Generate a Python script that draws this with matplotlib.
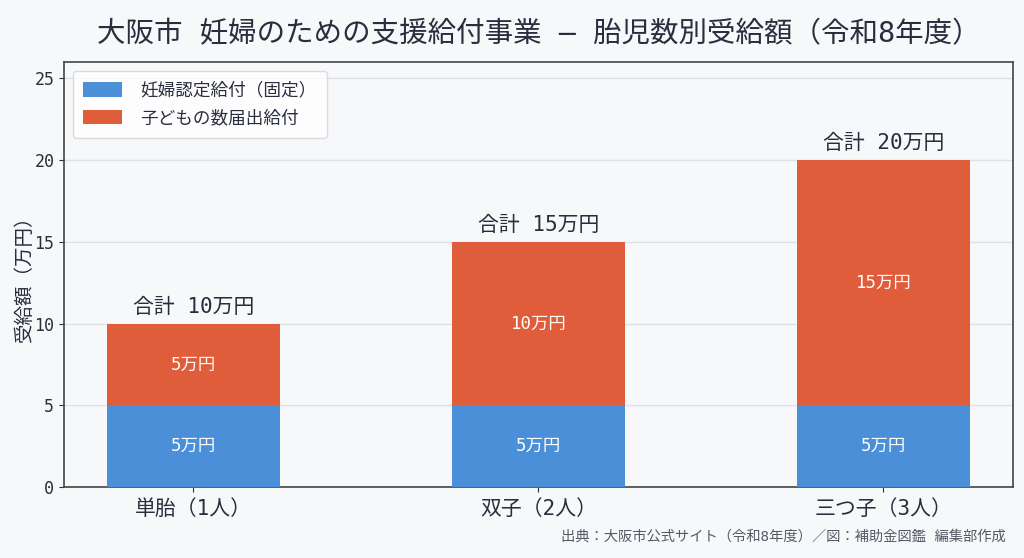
import matplotlib
matplotlib.use("Agg")
import matplotlib.pyplot as plt

plt.rcParams['font.family'] = ['DejaVu Sans Mono', 'Noto Sans CJK JP']

categories = ['単胎（1人）', '双子（2人）', '三つ子（3人）']
fixed = [5, 5, 5]
child = [5, 10, 15]
series_names = ['妊婦認定給付（固定）', '子どもの数届出給付']
yticks = [0, 5, 10, 15, 20, 25]

BG = '#f7f8fa'
BLUE = '#4a8fd8'
RED = '#e05d3c'
TXT = '#2a2d3e'

fig = plt.figure(figsize=(10.24, 5.58), dpi=100, facecolor=BG)
ax = fig.add_axes([0.0625, 0.127, 0.9265, 0.762])
ax.set_facecolor(BG)

x = list(range(len(categories)))
ax.bar(x, fixed, width=0.5, color=BLUE, label=series_names[0], zorder=3)
ax.bar(x, child, width=0.5, bottom=fixed, color=RED, label=series_names[1], zorder=3)

for i in x:
    ax.text(i, fixed[i] / 2, f'{fixed[i]}万円', ha='center', va='center',
            color='white', fontsize=12.5, zorder=4)
    ax.text(i, fixed[i] + child[i] / 2, f'{child[i]}万円', ha='center', va='center',
            color='white', fontsize=12.5, zorder=4)
    tot = fixed[i] + child[i]
    ax.annotate(f'合計 {tot}万円', (i, tot), xytext=(0, 5), textcoords='offset points',
                ha='center', va='bottom', fontsize=15, color=TXT)

ax.set_xlim(-0.375, 2.375)
ax.set_ylim(0, 26)
ax.set_yticks(yticks)
ax.set_xticks(x)
ax.set_xticklabels(categories, fontsize=15, color=TXT)
ax.tick_params(axis='y', labelsize=12, colors=TXT)
ax.tick_params(axis='x', colors=TXT, pad=5)
ax.set_ylabel('受給額（万円）', fontsize=14, color=TXT, labelpad=0.5)
ax.grid(axis='y', color='#dfe1e6', linewidth=1, zorder=0)
for s in ax.spines.values():
    s.set_color('#444444')
    s.set_linewidth(1.2)

leg = ax.legend(loc='upper left', fontsize=12.7, frameon=True, handlelength=2.2,
                handleheight=0.9, handletextpad=1.0, borderpad=0.6, labelspacing=0.55)
leg.get_frame().set_edgecolor('#d0d3d8')
leg.get_frame().set_facecolor('white')
for t in leg.get_texts():
    t.set_color(TXT)

ax.set_title('大阪市 妊婦のための支援給付事業 ― 胎児数別受給額（令和8年度）',
             fontsize=20.5, color=TXT, pad=14)
fig.text(0.982, 0.025, '出典：大阪市公式サイト（令和8年度）／図：補助金図鑑 編集部作成',
         ha='right', va='bottom', fontsize=10.3, color='#555a66')

fig.savefig('out.png', dpi=100, facecolor=BG)
